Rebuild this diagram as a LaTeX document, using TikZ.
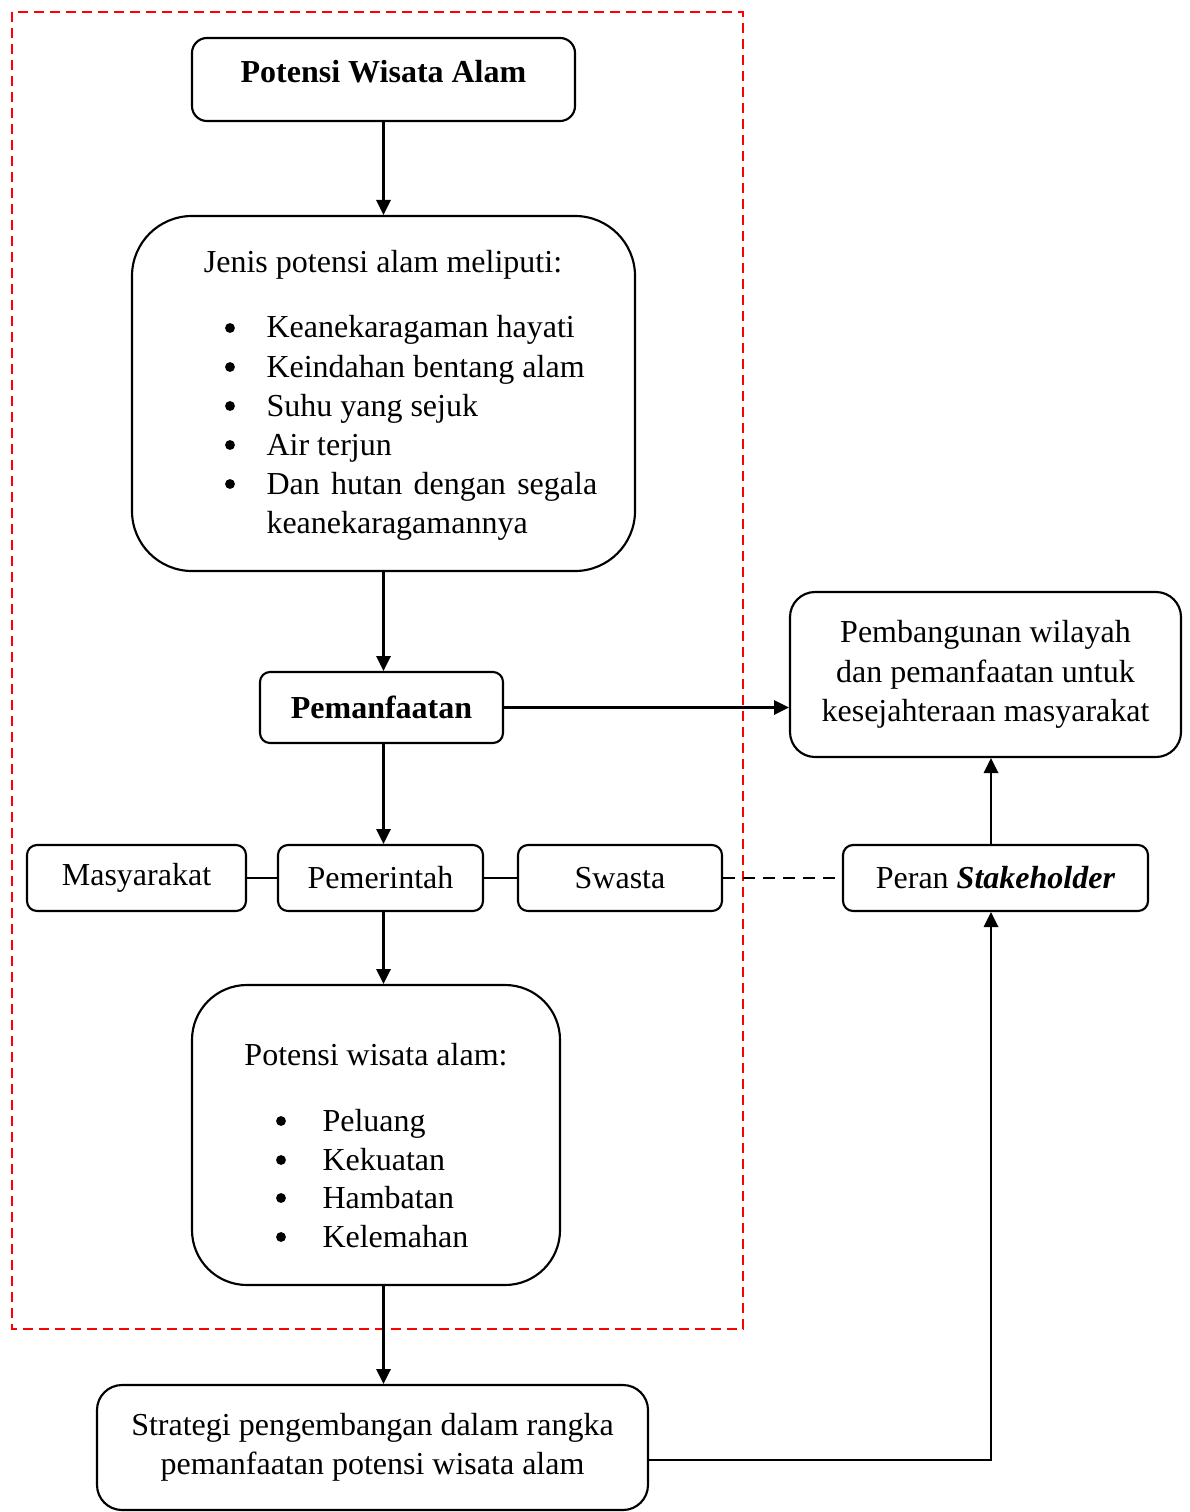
\documentclass[tikz,border=0pt]{standalone}
\usepackage{fontspec}
\setmainfont{Liberation Serif}
\usetikzlibrary{arrows.meta}

\tikzset{
  box/.style={draw, rounded corners=#1, line width=0.8pt, inner sep=0pt, align=center},
  box/.default=3.75pt,
  ukuran/.style 2 args={minimum width=#1*0.375pt, minimum height=#2*0.375pt},
  titik/.style={circle, fill, inner sep=0pt, minimum size=3.7pt},
  arr/.style={line width=0.8pt, -{Triangle[length=5.6pt, width=5.4pt]}},
  link/.style={line width=0.8pt},
}

\begin{document}
\begin{tikzpicture}[x=0.375pt, y=-0.375pt, font=\fontsize{12}{14.8}\selectfont]
  \useasboundingbox (0,0) rectangle (1189,1512);

  % batas kawasan
  \draw [red, line width=0.8pt, dash pattern=on 3.75pt off 2.25pt] (12,12) rectangle (743,1329);

  \node [box=5.6pt, ukuran={383}{83}, text depth=6.3pt] (potensi) at (383.5,79.5)
    {\textbf{Potensi Wisata Alam}};

  \node [box=22.5pt, ukuran={503}{355}] (jenis) at (383.5,393.5) {};
  \node [anchor=base] (jenisJudul) at (383,273) {Jenis potensi alam meliputi:};
  \foreach \y/\txt [count=\i] in {338/Keanekaragaman hayati, 377/Keindahan bentang alam,
                                  416/Suhu yang sejuk, 455/Air terjun}
  {
    \node [titik] (jenisDot-\i) at (230,\y-10) {};
    \node [anchor=base west, inner sep=0pt] (jenis-\i) at (266,\y) {\txt};
  }
  \node [titik] (jenisDot-5) at (230,484) {};
  \node [anchor=base west, inner sep=0pt] (jenis-5) at (266,494)
    {\makebox[124pt][s]{Dan hutan dengan segala}};
  \node [anchor=base west, inner sep=0pt] (jenis-6) at (266,533) {keanekaragamannya};

  \node [box, ukuran={243}{71}] (manfaat) at (381.5,707.5) {\textbf{Pemanfaatan}};

  \node [box=9.4pt, ukuran={391}{165}] (bangun) at (985.5,674.5)
    {Pembangunan wilayah\\dan pemanfaatan untuk\\kesejahteraan masyarakat};

  \node [box, ukuran={219}{66}] (masyarakat) at (136.5,878) {Masyarakat};
  \node [box, ukuran={205}{66}] (pemerintah) at (380.5,878) {Pemerintah};
  \node [box, ukuran={204}{66}] (swasta) at (620,878) {Swasta};
  \node [box, ukuran={305}{66}] (peran) at (995.5,878) {Peran \textbf{\textit{Stakeholder}}};

  \node [box=20.6pt, ukuran={368}{300}] (wisata) at (376,1135) {};
  \node [anchor=base] (wisataJudul) at (376,1065) {Potensi wisata alam:};
  \foreach \y/\txt [count=\i] in {1131/Peluang, 1170/Kekuatan, 1208/Hambatan, 1247/Kelemahan}
  {
    \node [titik] (wisataDot-\i) at (281,\y-10) {};
    \node [anchor=base west, inner sep=0pt] (wisata-\i) at (322,\y) {\txt};
  }

  \node [box=9.4pt, ukuran={551}{125}] (strategi) at (372.5,1447.5)
    {Strategi pengembangan dalam rangka\\pemanfaatan potensi wisata alam};

  % panah alur
  \draw [arr] (potensi.south) -- (jenis.north -| potensi.south);
  \draw [arr] (jenis.south -| potensi.south) -- (manfaat.north -| potensi.south);
  \draw [arr] (manfaat.east) -- (manfaat.east -| bangun.west);
  \draw [arr] (manfaat.south -| potensi.south) -- (pemerintah.north -| potensi.south);
  \draw [arr] (pemerintah.south -| potensi.south) -- (wisata.north -| potensi.south);
  \draw [arr] (wisata.south -| potensi.south) -- (strategi.north -| potensi.south);

  \draw [link] (masyarakat.east) -- (pemerintah.west);
  \draw [link] (pemerintah.east) -- (swasta.west);
  \draw [link, dash pattern=on 4.5pt off 3pt] (swasta.east) -- (peran.west);

  \coordinate (belok) at (991,1460);
  \draw [arr] (peran.north -| belok) -- (belok |- bangun.south);
  \draw [arr] (strategi.east |- belok) -- (belok) -- (belok |- peran.south);

\end{tikzpicture}
\end{document}
